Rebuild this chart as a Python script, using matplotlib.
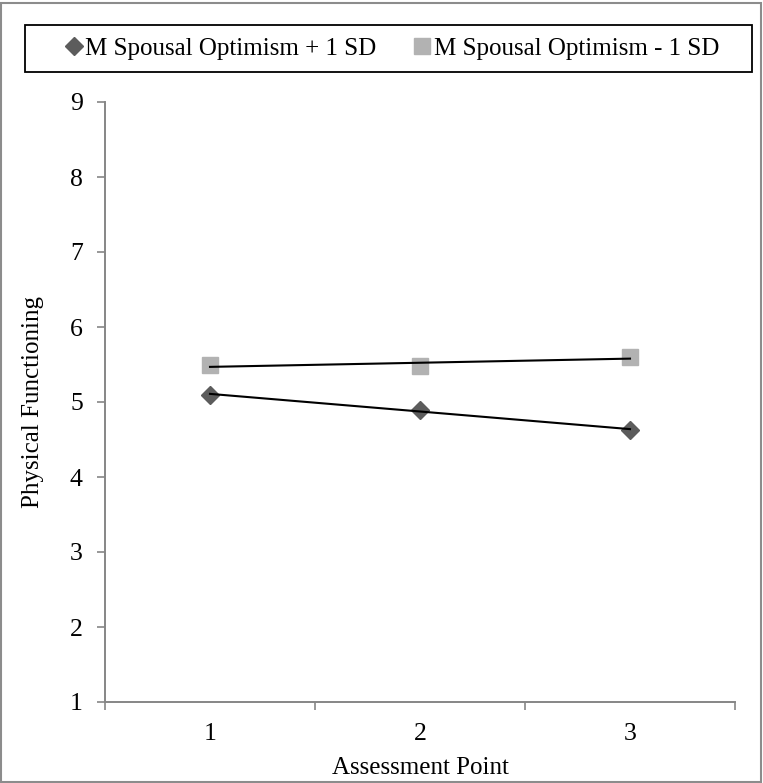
import matplotlib
matplotlib.use("Agg")
import matplotlib.pyplot as plt
import numpy as np
from matplotlib.patches import Rectangle
from matplotlib.lines import Line2D

plt.rcParams['font.family'] = ['Liberation Serif', 'DejaVu Serif']

points = [1, 2, 3]
plus_sd = [5.10, 4.89, 4.63]
minus_sd = [5.49, 5.48, 5.60]
labels = ["M Spousal Optimism + 1 SD", "M Spousal Optimism - 1 SD"]
yticks = [1, 2, 3, 4, 5, 6, 7, 8, 9]

W, H = 763, 783
fig = plt.figure(figsize=(W / 100, H / 100), dpi=100)
ax = fig.add_axes([105 / W, 1 - 702 / H, (735 - 105) / W, (702 - 102) / H])

x = np.array(points, dtype=float)
dia_c = '#5c5c5c'
sq_c = '#b2b2b2'
ax.plot(x, plus_sd, linestyle='none', marker='D', color=dia_c, markersize=9.5, zorder=3)
ax.plot(x, minus_sd, linestyle='none', marker='s', color=sq_c, markersize=11.5, zorder=3)
for vals in (plus_sd, minus_sd):
    m, b = np.polyfit(x, vals, 1)
    ax.plot(x, m * x + b, color='black', lw=1.5, zorder=4)

ax.set_xlim(0.5, 3.5)
ax.set_ylim(1, 9)
ax.set_yticks(yticks)
ax.set_xticks(points)
ax.set_xticks([0.5, 1.5, 2.5, 3.5], minor=True)
ax.tick_params(axis='x', which='major', length=0, pad=15, labelsize=18.5)
ax.tick_params(axis='x', which='minor', length=6, direction='out', color='#868686', width=1.2)
ax.tick_params(axis='y', which='major', length=6, direction='out', color='#868686', width=1.2, pad=10, labelsize=18.5)
for s in ['top', 'right']:
    ax.spines[s].set_visible(False)
for s in ['left', 'bottom']:
    ax.spines[s].set_color('#868686')
    ax.spines[s].set_linewidth(1.4)
ax.set_xlabel("Assessment Point", fontsize=18, labelpad=9)
ax.set_ylabel("Physical Functioning", fontsize=18, labelpad=19)

handles = [Line2D([], [], linestyle='none', marker='D', color=dia_c, markersize=9),
           Line2D([], [], linestyle='none', marker='s', color=sq_c, markersize=11)]
leg = fig.legend(handles, labels, loc='center', bbox_to_anchor=(392 / W, 1 - 48.5 / H),
                 ncol=2, fontsize=18, frameon=False,
                 handlelength=0.7, handletextpad=0.1, columnspacing=1.5)

fig.patches.append(Rectangle((25 / W, 1 - 72 / H), 727 / W, 47 / H, transform=fig.transFigure,
                             fill=False, edgecolor='black', lw=1.3))
fig.patches.append(Rectangle((1 / W, 1 / H), 1 - 3 / W, 1 - 4 / H, transform=fig.transFigure,
                             fill=False, edgecolor='#8c8c8c', lw=1.5))

fig.savefig("out.png", dpi=100)
